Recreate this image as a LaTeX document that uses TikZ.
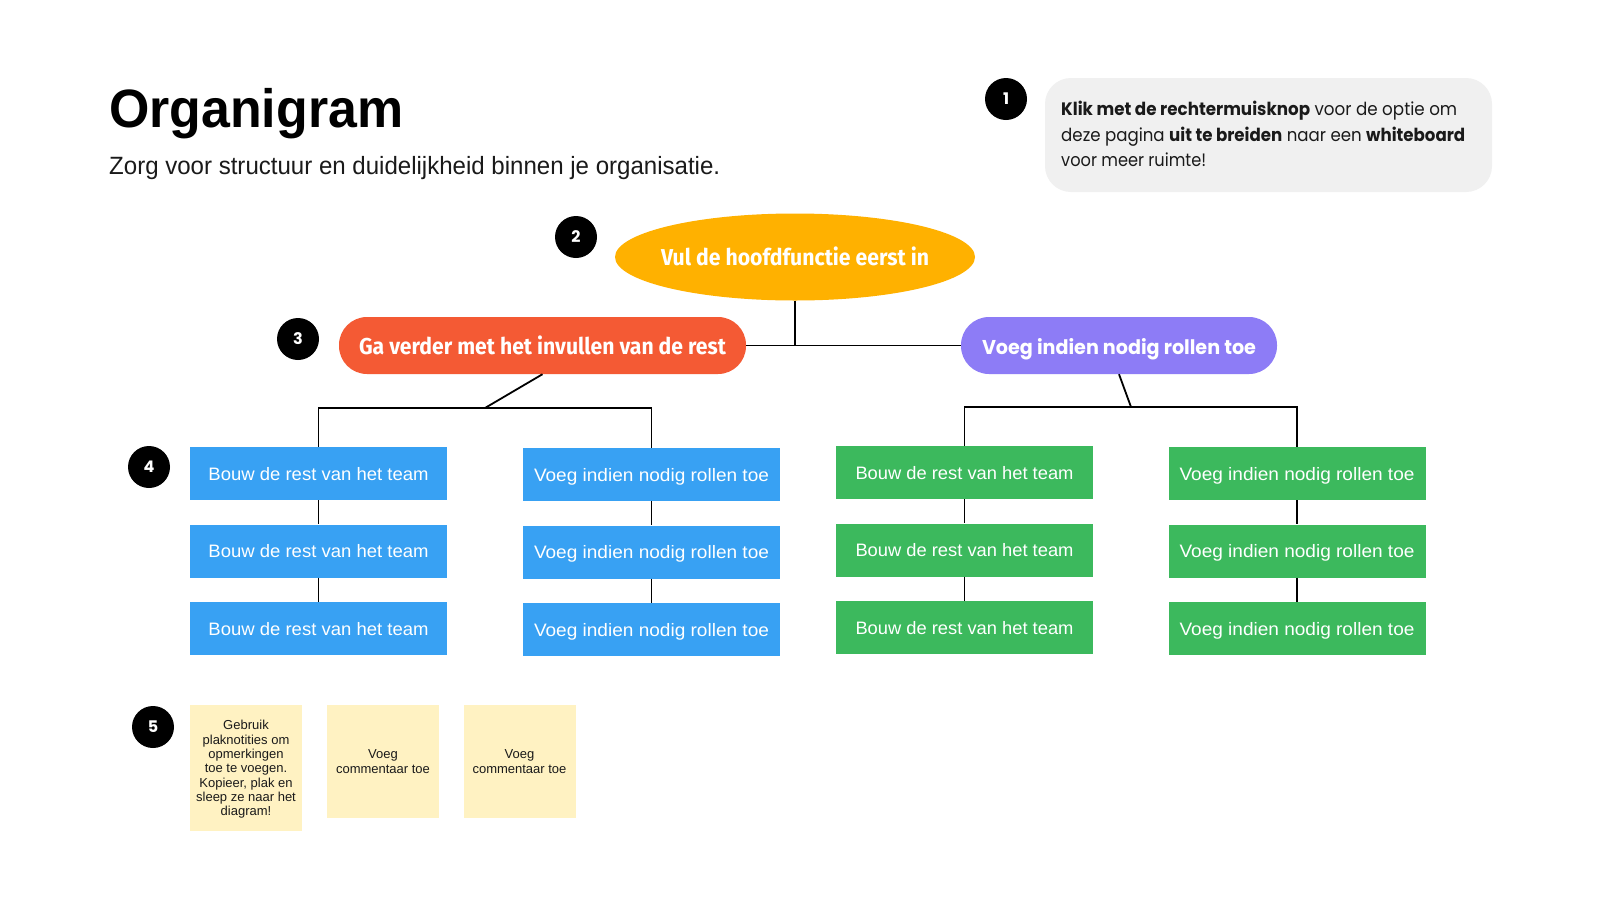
\documentclass[tikz,border=0pt]{standalone}
\usepackage{fontspec}
\usepackage{graphicx}
\usetikzlibrary{shapes.geometric}
\setmainfont{Liberation Sans}
\newfontfamily\popp{Poppins}
\newfontfamily\fira{Fira Sans}
\newcommand{\fitw}[2]{\resizebox{#1}{\height}{#2}}
\definecolor{camber}{HTML}{FFB100}
\definecolor{corange}{HTML}{F45A34}
\definecolor{cpurple}{HTML}{8D7CF6}
\definecolor{cblue}{HTML}{38A1F3}
\definecolor{cgreen}{HTML}{3CB95D}
\definecolor{cnote}{HTML}{FFF2C2}
\definecolor{cgray}{HTML}{F0F0F0}
\definecolor{ctext}{HTML}{1A1A1A}
\begin{document}
\begin{tikzpicture}[x=1pt,y=-1pt,
  badge/.style={circle,fill=black,minimum size=42pt,inner sep=0,text=white,font=\popp\bfseries\fontsize{16}{16}\selectfont},
  bluebox/.style={fill=cblue,minimum width=257pt,minimum height=53pt,inner sep=0,text=white,text height=16pt,text depth=3pt,font=\fontsize{18}{18}\selectfont},
  greenbox/.style={bluebox,fill=cgreen},
  pill/.style={rounded corners=28pt,minimum height=57pt,inner sep=0,text=white,text height=20pt,text depth=3pt},
  note/.style={fill=cnote,minimum width=112pt,inner sep=0,align=center,text=ctext,text depth=-2.5pt,font=\fontsize{13}{14.3}\selectfont},
  link/.style={draw=black,line width=1.8pt},
  plain/.style={anchor=base west,inner sep=0}]
\useasboundingbox (0,0) rectangle (1600,900);
\fill[white] (0,0) rectangle (1600,900);

% title
\node[plain,text=black,font=\bfseries\fontsize{54}{54}\selectfont] (title) at (109,127) {\fitw{294pt}{Organigram}};
\node[plain,text=ctext,font=\fontsize{25}{25}\selectfont] (sub) at (109,174) {\fitw{611pt}{Zorg voor structuur en duidelijkheid binnen je organisatie.}};

% callout
\node[fill=cgray,rounded corners=26pt,minimum width=447pt,minimum height=114pt,inner sep=0] (callout) at (1268.5,135) {};
\node[plain,text=ctext,font=\popp\fontsize{18}{18}\selectfont] (c1) at (1061,115) {\fitw{396pt}{\textbf{Klik met de rechtermuisknop} voor de optie om}};
\node[plain,text=ctext,font=\popp\fontsize{18}{18}\selectfont] (c2) at (1061,141) {\fitw{404pt}{deze pagina \textbf{uit te breiden} naar een \textbf{whiteboard}}};
\node[plain,text=ctext,font=\popp\fontsize{18}{18}\selectfont] (c3) at (1061,166) {\fitw{145pt}{voor meer ruimte!}};

% badges
\node[badge] (n1) at (1006,99) {1};
\node[badge] (n2) at (576,237) {2};
\node[badge] (n3) at (298,339) {3};
\node[badge] (n4) at (149,467) {4};
\node[badge] (n5) at (153,727) {5};

% top level
\node[ellipse,fill=camber,minimum width=360pt,minimum height=87pt,inner sep=0,text=white,text height=20pt,text depth=3pt,font=\fira\bfseries\fontsize{23}{23}\selectfont] (top) at (795,257) {\makebox[0pt]{\fitw{268pt}{Vul de hoofdfunctie eerst in}}};
\node[pill,fill=corange,minimum width=407pt,font=\fira\bfseries\fontsize{23}{23}\selectfont] (l1) at (542.5,345.5) {\fitw{367pt}{Ga verder met het invullen van de rest}};
\node[pill,fill=cpurple,minimum width=316pt,font=\popp\bfseries\fontsize{20}{20}\selectfont] (r1) at (1119,345.5) {\fitw{274pt}{Voeg indien nodig rollen toe}};

% blue columns
\node[bluebox] (b11) at (318.5,473.5) {\fitw{220pt}{Bouw de rest van het team}};
\node[bluebox] (b12) at (318.5,551) {\fitw{220pt}{Bouw de rest van het team}};
\node[bluebox] (b13) at (318.5,628.5) {\fitw{220pt}{Bouw de rest van het team}};
\node[bluebox] (b21) at (651.5,474.5) {\fitw{235pt}{Voeg indien nodig rollen toe}};
\node[bluebox] (b22) at (651.5,552) {\fitw{235pt}{Voeg indien nodig rollen toe}};
\node[bluebox] (b23) at (651.5,629.5) {\fitw{235pt}{Voeg indien nodig rollen toe}};
% green columns
\node[greenbox] (g11) at (964.5,472.5) {\fitw{218pt}{Bouw de rest van het team}};
\node[greenbox] (g12) at (964.5,550) {\fitw{218pt}{Bouw de rest van het team}};
\node[greenbox] (g13) at (964.5,627.5) {\fitw{218pt}{Bouw de rest van het team}};
\node[greenbox] (g21) at (1297,473.5) {\fitw{235pt}{Voeg indien nodig rollen toe}};
\node[greenbox] (g22) at (1297,551) {\fitw{235pt}{Voeg indien nodig rollen toe}};
\node[greenbox] (g23) at (1297,628.5) {\fitw{235pt}{Voeg indien nodig rollen toe}};

% notes
\node[note,minimum height=126pt] (s1) at (246,768) {Gebruik\\plaknotities om\\opmerkingen\\toe te voegen.\\Kopieer, plak en\\sleep ze naar het\\diagram!};
\node[note,minimum height=113pt] (s2) at (383,761.5) {Voeg\\commentaar toe};
\node[note,minimum height=113pt] (s3) at (519.5,761.5) {Voeg\\commentaar toe};

% connectors
\draw[link] (top.south) -- (top.south |- l1.east);
\draw[link] (l1.east) -- (r1.west);
\coordinate (jl) at (485,408);
\coordinate (jr) at (1131,407);
\draw[link] (l1.south) -- (jl);
\draw[link] (b11.north) -- (b11.north |- jl) -- (b21.north |- jl) -- (b21.north);
\draw[link] (r1.south) -- (jr);
\draw[link] (g11.north) -- (g11.north |- jr) -- (g21.north |- jr) -- (g21.north);
\draw[link] (b11.south) -- (b12.north);
\draw[link] (b12.south) -- (b13.north);
\draw[link] (b21.south) -- (b22.north);
\draw[link] (b22.south) -- (b23.north);
\draw[link] (g11.south) -- (g12.north);
\draw[link] (g12.south) -- (g13.north);
\draw[link] (g21.south) -- (g22.north);
\draw[link] (g22.south) -- (g23.north);
\end{tikzpicture}
\end{document}
